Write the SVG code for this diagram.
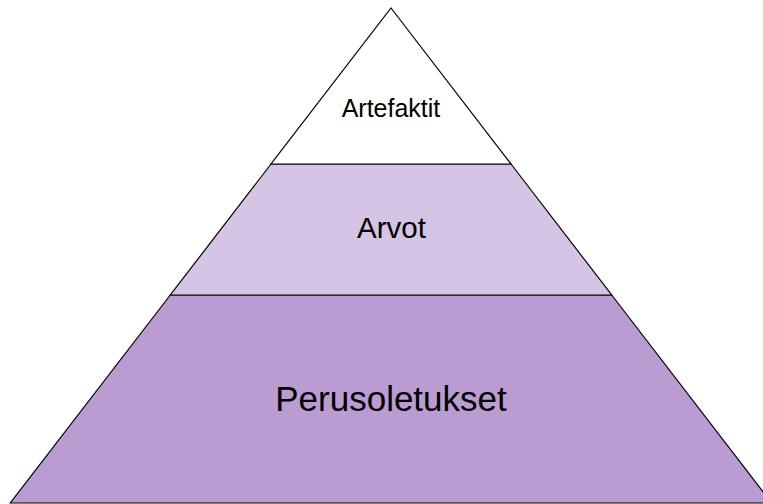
<svg xmlns="http://www.w3.org/2000/svg" width="763" height="504" viewBox="0 0 763 504">
<style>
.layer{stroke:#000;stroke-width:1.2;stroke-linejoin:miter}
.lbl{font-family:"Liberation Sans",Arial,sans-serif;fill:#000;text-anchor:middle}
</style>
<rect width="763" height="504" fill="#fff"/>
<g id="perusoletukset">
<polygon class="layer" points="170.3,295 611.7,295 771.7,503 10.3,503" fill="#BA9CD2"/>
<text class="lbl" x="391" y="411" font-size="35">Perusoletukset</text>
</g>
<g id="arvot">
<polygon class="layer" points="271,164 511,164 611.7,295 170.3,295" fill="#D6C4E4"/>
<text class="lbl" x="391.5" y="238" font-size="29.5">Arvot</text>
</g>
<g id="artefaktit">
<polygon class="layer" points="391,8 511,164 271,164" fill="#FFFFFF"/>
<text class="lbl" x="391" y="117" font-size="25">Artefaktit</text>
</g>
</svg>
